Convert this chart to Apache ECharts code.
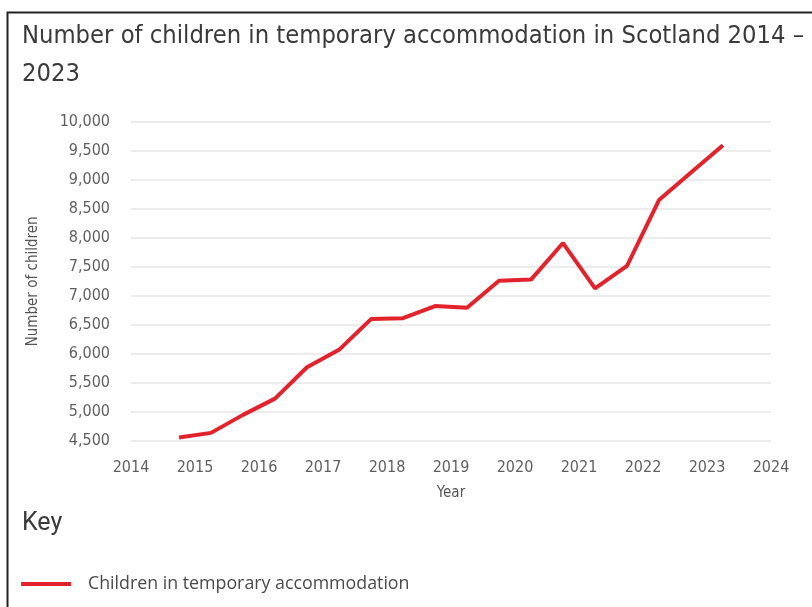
<!DOCTYPE html>
<html>
<head>
<meta charset="utf-8">
<script src="https://cdn.jsdelivr.net/npm/echarts@6/dist/echarts.min.js"></script>
<style>
html,body{margin:0;padding:0;background:#fff;}
#chart{width:812px;height:607px;}
</style>
</head>
<body>
<div id="chart"></div>
<script>
// Snapshot dates (decimal years: 30 Sep and 31 Mar) and counts
var periods = [2014.75, 2015.25, 2015.75, 2016.25, 2016.75, 2017.25, 2017.75, 2018.25, 2018.75,
               2019.25, 2019.75, 2020.25, 2020.75, 2021.25, 2021.75, 2022.25, 2022.75, 2023.25];
var children = [4560, 4640, 4950, 5230, 5770, 6070, 6600, 6615, 6825,
                6795, 7260, 7280, 7910, 7130, 7515, 8650, 9125, 9595];
var seriesName = 'Children in temporary accommodation';
var chartTitle = 'Number of children in temporary accommodation in Scotland 2014 –\n2023';
var yAxisName = 'Number of children';
var xAxisName = 'Year';
var keyLabel = 'Key';

var data = periods.map(function (p, i) { return [p, children[i]]; });
var narrow = '"Liberation Sans Narrow", "DejaVu Sans Condensed", sans-serif';

var chart = echarts.init(document.getElementById('chart'));
chart.setOption({
  animation: false,
  backgroundColor: '#fff',
  title: {
    text: chartTitle,
    left: 17, top: 12,
    textStyle: { fontFamily: narrow, fontSize: 25.3, fontWeight: 'normal', color: '#3a3a3a', lineHeight: 38 }
  },
  grid: { left: 131, right: 41, top: 121.7, bottom: 166 },
  xAxis: {
    type: 'value', min: 2014, max: 2024, interval: 1,
    name: xAxisName, nameLocation: 'middle', nameGap: 45,
    nameTextStyle: { fontFamily: narrow, fontSize: 15, color: '#555' },
    axisLine: { show: false }, axisTick: { show: false }, splitLine: { show: false },
    axisLabel: { formatter: function (v) { return String(v); }, fontFamily: narrow, fontSize: 16, color: '#5f5f5f', margin: 19 }
  },
  yAxis: {
    type: 'value', min: 4500, max: 10000, interval: 500,
    name: yAxisName, nameLocation: 'middle', nameGap: 90, nameRotate: 90,
    nameTextStyle: { fontFamily: narrow, fontSize: 15, color: '#555' },
    axisLine: { show: false }, axisTick: { show: false },
    splitLine: { lineStyle: { color: '#e6e6e6', width: 1.5 } },
    axisLabel: { formatter: function (v) { return v.toLocaleString('en-GB'); }, fontFamily: narrow, fontSize: 16, color: '#5f5f5f', margin: 21 }
  },
  legend: {
    left: 16, top: 570, icon: 'rect', itemWidth: 50, itemHeight: 4,
    textStyle: { fontFamily: '"Open Sans", sans-serif', fontSize: 17.8, color: '#4a4a4a', padding: [0, 0, 0, 12] },
    data: [seriesName]
  },
  graphic: [
    { type: 'rect', shape: { x: 7.5, y: 12.5, width: 900, height: 700 }, style: { fill: 'none', stroke: '#222', lineWidth: 2 }, silent: true },
    { type: 'text', left: 22, top: 511, style: { text: keyLabel, font: '25px Roboto, sans-serif', fill: '#3a3a3a' } }
  ],
  series: [{
    name: seriesName, type: 'line', data: data, showSymbol: false,
    lineStyle: { color: '#e3232b', width: 4 }, itemStyle: { color: '#e3232b' }
  }]
});
</script>
</body>
</html>
